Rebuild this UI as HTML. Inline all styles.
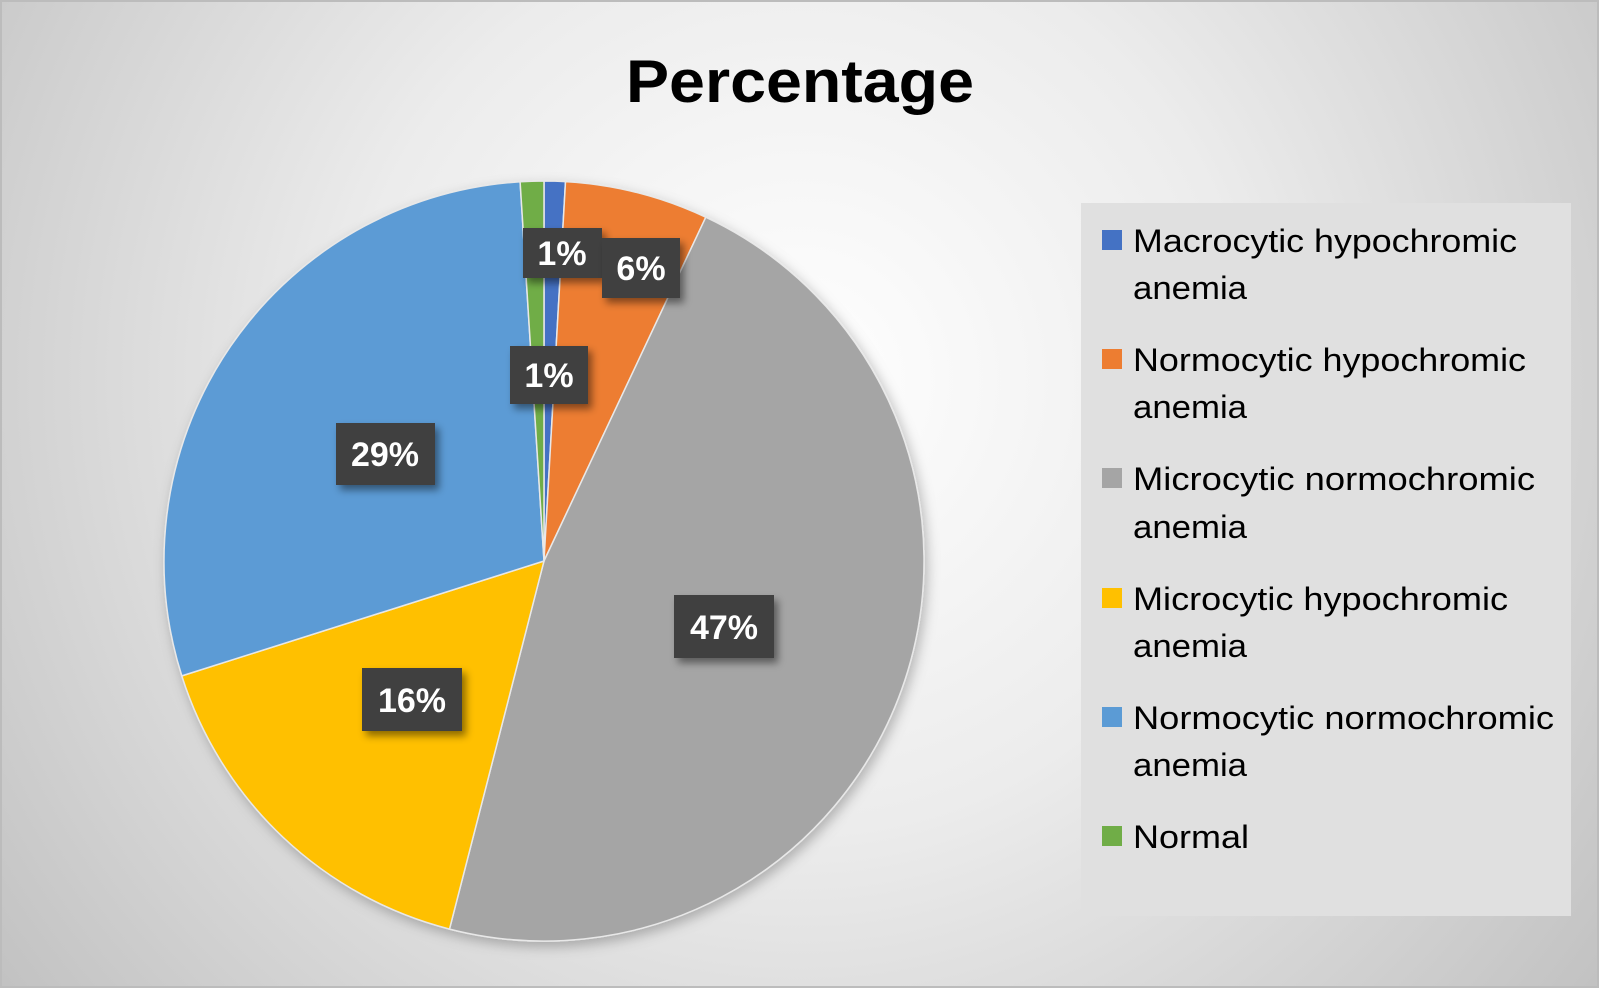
<!DOCTYPE html>
<html><head><meta charset="utf-8"><style>
html,body{margin:0;padding:0;background:#fff;}
svg{display:block;}
</style></head><body>
<svg width="1600" height="992" viewBox="0 0 1600 992" xmlns="http://www.w3.org/2000/svg">
<defs>
<radialGradient id="bg" cx="800" cy="380" r="1000" gradientUnits="userSpaceOnUse">
<stop offset="0" stop-color="#ffffff"/>
<stop offset="0.45" stop-color="#ececec"/>
<stop offset="1" stop-color="#c2c2c2"/>
</radialGradient>
<filter id="sh" x="-20%" y="-20%" width="150%" height="150%">
<feDropShadow dx="4" dy="5" stdDeviation="4" flood-color="#000" flood-opacity="0.45"/>
</filter>
<filter id="psh" x="-10%" y="-10%" width="130%" height="130%">
<feDropShadow dx="3" dy="5" stdDeviation="6" flood-color="#000" flood-opacity="0.25"/>
</filter>
</defs>
<rect x="0" y="0" width="1600" height="992" fill="#fff"/>
<rect x="1" y="1" width="1597" height="986" fill="url(#bg)" stroke="#bcbcbc" stroke-width="2"/>
<text x="800" y="102" text-anchor="middle" font-family="Liberation Sans, sans-serif" font-weight="bold" font-size="60" textLength="348" lengthAdjust="spacingAndGlyphs" fill="#000">Percentage</text>

<g filter="url(#psh)" stroke="#e8e8e8" stroke-width="1.5">
<path d="M544,561 L544,181 A380,380 0 0 1 565.5,181.6 Z" fill="#4472C4"/>
<path d="M544,561 L565.5,181.6 A380,380 0 0 1 705.8,217.2 Z" fill="#ED7D31"/>
<path d="M544,561 L705.8,217.2 A380,380 0 0 1 449.5,929.1 Z" fill="#A5A5A5"/>
<path d="M544,561 L449.5,929.1 A380,380 0 0 1 181.8,675.9 Z" fill="#FFC000"/>
<path d="M544,561 L181.8,675.9 A380,380 0 0 1 520.1,181.8 Z" fill="#5B9BD5"/>
<path d="M544,561 L520.1,181.8 A380,380 0 0 1 544,181 Z" fill="#70AD47"/>
</g>

<g font-family="Liberation Sans, sans-serif" font-weight="bold" font-size="34" fill="#fff" text-anchor="middle">
<rect x="523" y="228" width="79" height="50" fill="#404040" filter="url(#sh)"/>
<text x="562" y="265">1%</text>
<rect x="602" y="238" width="78" height="60" fill="#404040" filter="url(#sh)"/>
<text x="641" y="280">6%</text>
<rect x="510" y="346" width="78" height="58" fill="#404040" filter="url(#sh)"/>
<text x="549" y="387">1%</text>
<rect x="336" y="423" width="99" height="62" fill="#404040" filter="url(#sh)"/>
<text x="385" y="466">29%</text>
<rect x="674" y="595" width="100" height="63" fill="#404040" filter="url(#sh)"/>
<text x="724" y="639">47%</text>
<rect x="362" y="668" width="100" height="63" fill="#404040" filter="url(#sh)"/>
<text x="412" y="712">16%</text>
</g>

<rect x="1081" y="203" width="490" height="713" fill="#e0e0e0"/>
<g font-family="Liberation Sans, sans-serif" font-size="32" fill="#000" lengthAdjust="spacingAndGlyphs">
<rect x="1102" y="230" width="20" height="20" fill="#4472C4"/>
<text x="1133" y="252" textLength="384" lengthAdjust="spacingAndGlyphs">Macrocytic hypochromic</text>
<text x="1133" y="299" textLength="114" lengthAdjust="spacingAndGlyphs">anemia</text>
<rect x="1102" y="349" width="20" height="20" fill="#ED7D31"/>
<text x="1133" y="371" textLength="393" lengthAdjust="spacingAndGlyphs">Normocytic hypochromic</text>
<text x="1133" y="418" textLength="114" lengthAdjust="spacingAndGlyphs">anemia</text>
<rect x="1102" y="468" width="20" height="20" fill="#A5A5A5"/>
<text x="1133" y="490" textLength="402" lengthAdjust="spacingAndGlyphs">Microcytic normochromic</text>
<text x="1133" y="538" textLength="114" lengthAdjust="spacingAndGlyphs">anemia</text>
<rect x="1102" y="588" width="20" height="20" fill="#FFC000"/>
<text x="1133" y="610" textLength="375" lengthAdjust="spacingAndGlyphs">Microcytic hypochromic</text>
<text x="1133" y="657" textLength="114" lengthAdjust="spacingAndGlyphs">anemia</text>
<rect x="1102" y="707" width="20" height="20" fill="#5B9BD5"/>
<text x="1133" y="729" textLength="421" lengthAdjust="spacingAndGlyphs">Normocytic normochromic</text>
<text x="1133" y="776" textLength="114" lengthAdjust="spacingAndGlyphs">anemia</text>
<rect x="1102" y="826" width="20" height="20" fill="#70AD47"/>
<text x="1133" y="848" textLength="116" lengthAdjust="spacingAndGlyphs">Normal</text>
</g>
</svg>
</body></html>
